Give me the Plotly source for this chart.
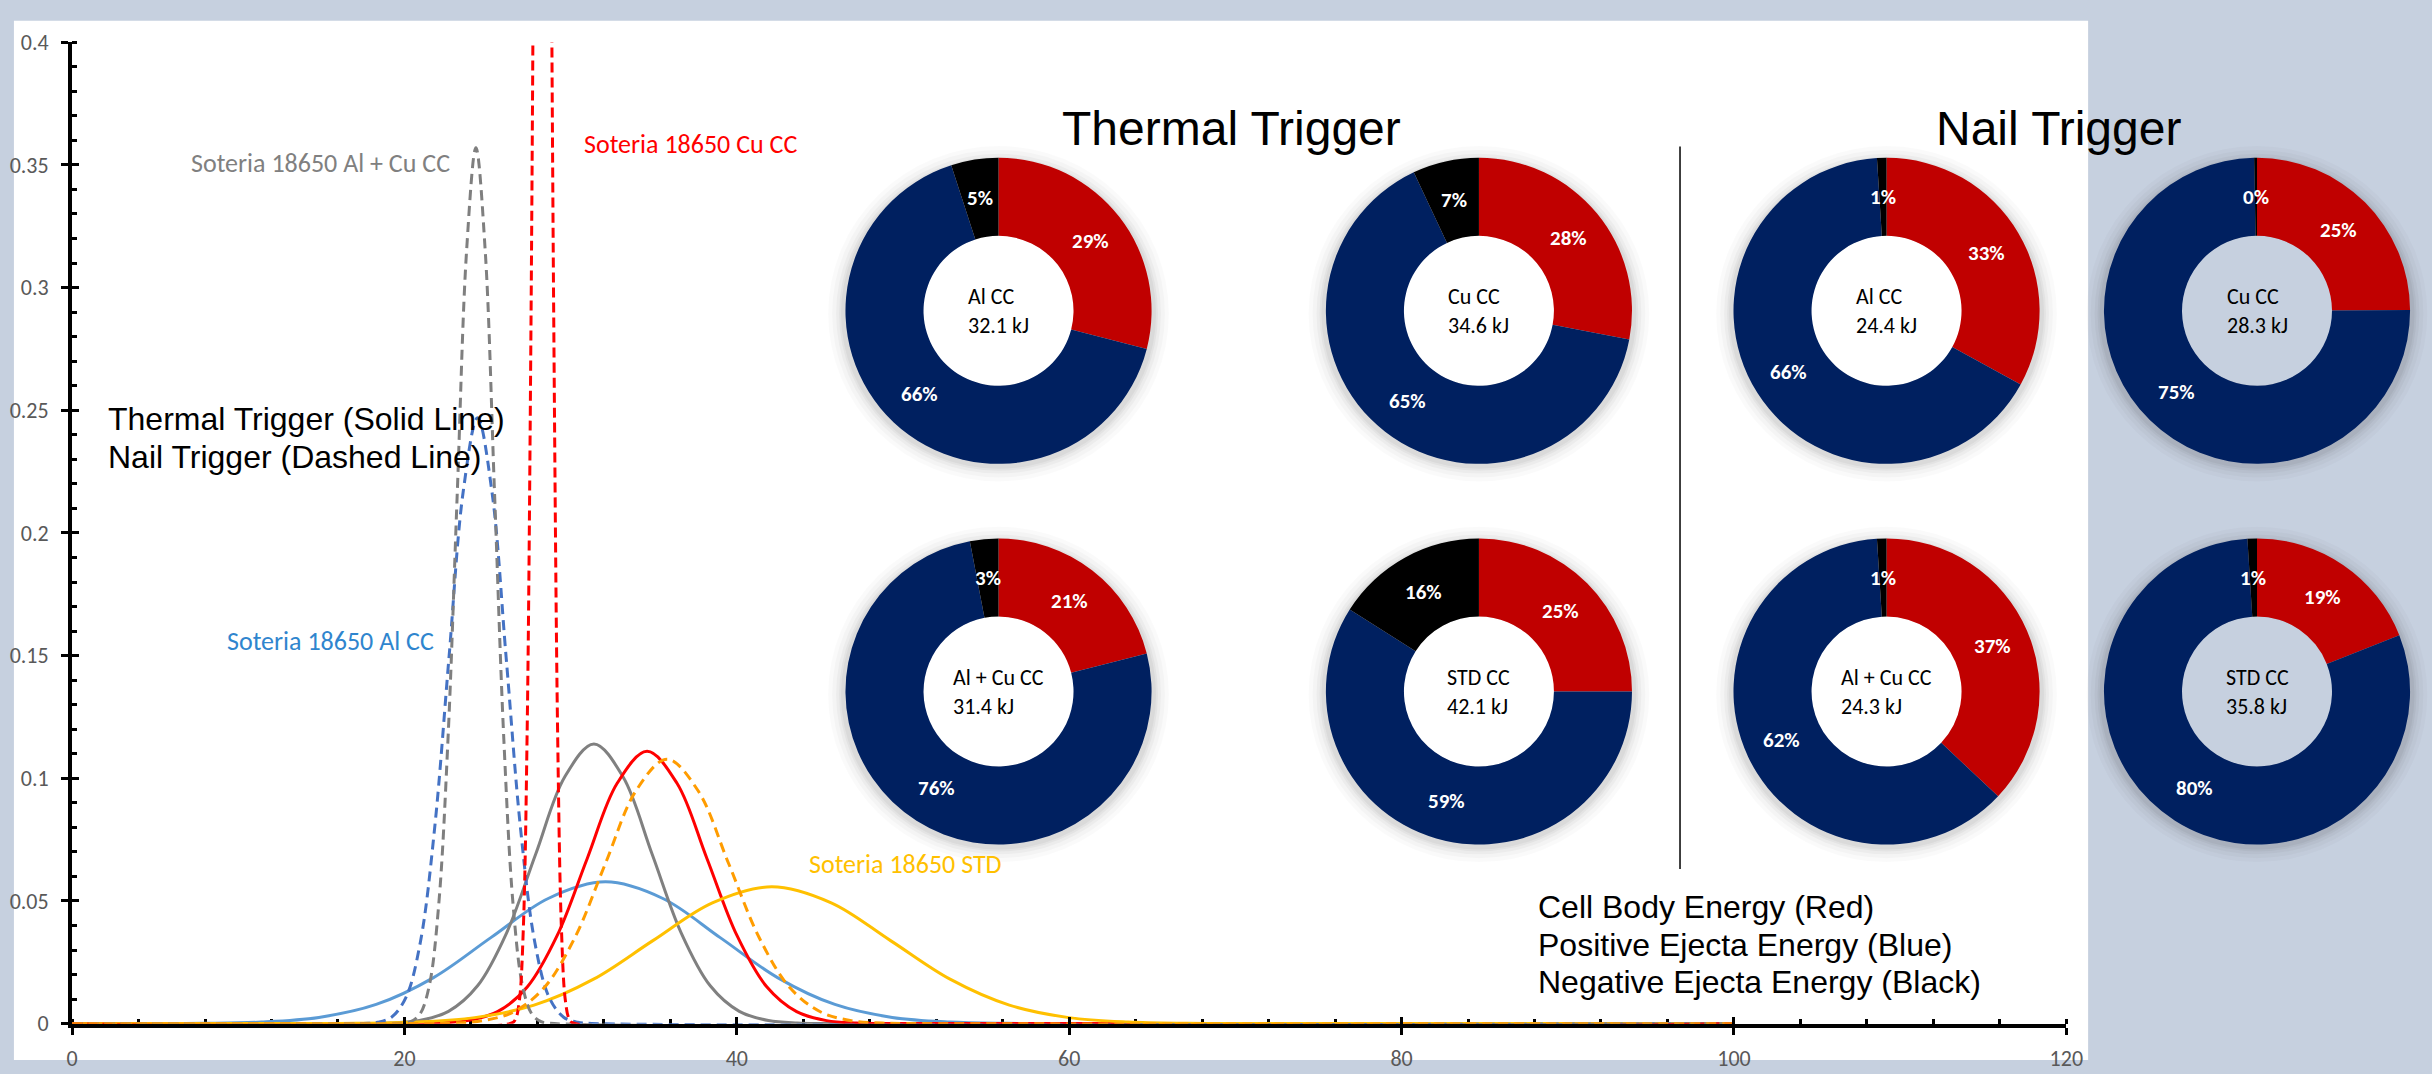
import math
import plotly.graph_objects as go

# ---------------------------------------------------------------------------
# Energy distribution curves (probability density vs. total energy, kJ)
# ---------------------------------------------------------------------------
# Thermal trigger (solid lines)
al_thermal_x = [0, 4.5, 7.95, 11.4, 14.85, 18.3, 21.75, 25.2, 28.65, 32.1, 35.55, 39.0, 42.45, 45.9, 49.35, 52.8, 56.25, 59.7, 100]
al_thermal_y = [0, 0.00002, 0.00013, 0.00064, 0.00254, 0.00782, 0.01877, 0.03506, 0.05101, 0.0578, 0.05101, 0.03506, 0.01877, 0.00782, 0.00254, 0.00064, 0.00013, 0.00002, 0]

alcu_thermal_x = [0, 17.4, 19.15, 20.9, 22.65, 24.4, 26.15, 27.9, 29.65, 31.4, 33.15, 34.9, 36.65, 38.4, 40.15, 41.9, 43.65, 45.4, 100]
alcu_thermal_y = [0, 0.00004, 0.00025, 0.00127, 0.005, 0.01542, 0.03702, 0.06914, 0.1006, 0.114, 0.1006, 0.06914, 0.03702, 0.01542, 0.005, 0.00127, 0.00025, 0.00004, 0]

cu_thermal_x = [0, 20.2, 22.0, 23.8, 25.6, 27.4, 29.2, 31.0, 32.8, 34.6, 36.4, 38.2, 40.0, 41.8, 43.6, 45.4, 47.2, 49.0, 100]
cu_thermal_y = [0, 0.00004, 0.00024, 0.00123, 0.00487, 0.01502, 0.03604, 0.06732, 0.09796, 0.111, 0.09796, 0.06732, 0.03604, 0.01502, 0.00487, 0.00123, 0.00024, 0.00004, 0]

std_thermal_x = [0, 13.5, 17.08, 20.65, 24.23, 27.8, 31.38, 34.95, 38.53, 42.1, 45.68, 49.25, 52.83, 56.4, 59.98, 63.55, 67.13, 70.7, 100]
std_thermal_y = [0, 0.00002, 0.00012, 0.00062, 0.00245, 0.00755, 0.01812, 0.03384, 0.04924, 0.0558, 0.04924, 0.03384, 0.01812, 0.00755, 0.00245, 0.00062, 0.00012, 0.00002, 0]

# Nail trigger (dashed lines)
al_nail_x = [0, 17.52, 18.38, 19.24, 20.1, 20.96, 21.82, 22.68, 23.54, 24.4, 25.26, 26.12, 26.98, 27.84, 28.7, 29.56, 30.42, 31.28, 100]
al_nail_y = [0, 0.00008, 0.00054, 0.00273, 0.0108, 0.03328, 0.07988, 0.1492, 0.2171, 0.247, 0.2171, 0.1492, 0.07988, 0.03328, 0.0108, 0.00273, 0.00054, 0.00008, 0]

alcu_nail_x = [0, 19.82, 20.38, 20.94, 21.5, 22.06, 22.62, 23.18, 23.74, 24.3, 24.86, 25.42, 25.98, 26.54, 27.1, 27.66, 28.22, 28.78, 100]
alcu_nail_y = [0, 0.00012, 0.00078, 0.00396, 0.01567, 0.0483, 0.1159, 0.2165, 0.3151, 0.357, 0.3151, 0.2165, 0.1159, 0.0483, 0.01567, 0.00396, 0.00078, 0.00012, 0]

cu_nail_x = [0, 26.46, 26.69, 26.92, 27.15, 27.38, 27.61, 27.84, 28.07, 28.3, 28.53, 28.76, 28.99, 29.22, 29.45, 29.68, 29.91, 30.14, 100]
cu_nail_y = [0, 0.00029, 0.0019, 0.00962, 0.03806, 0.1173, 0.2815, 0.5258, 0.7651, 0.867, 0.7651, 0.5258, 0.2815, 0.1173, 0.03806, 0.00962, 0.0019, 0.00029, 0]

std_nail_x = [0, 21.0, 22.85, 24.7, 26.55, 28.4, 30.25, 32.1, 33.95, 35.8, 37.65, 39.5, 41.35, 43.2, 45.05, 46.9, 48.75, 50.6, 100]
std_nail_y = [0, 0.00004, 0.00024, 0.0012, 0.00473, 0.01459, 0.035, 0.06538, 0.09513, 0.1078, 0.09513, 0.06538, 0.035, 0.01459, 0.00473, 0.0012, 0.00024, 0.00004, 0]

# ---------------------------------------------------------------------------
# Energy split per cell design (percent of total)
# ---------------------------------------------------------------------------
slice_labels = ["Cell Body Energy", "Positive Ejecta Energy", "Negative Ejecta Energy"]
cell_names = ["Al CC", "Cu CC", "Al + Cu CC", "STD CC"]

thermal_energy_kj = [32.1, 34.6, 31.4, 42.1]
thermal_cell_body = [29, 28, 21, 25]
thermal_pos_ejecta = [66, 65, 76, 59]
thermal_neg_ejecta = [5, 7, 3, 16]

nail_energy_kj = [24.4, 28.3, 24.3, 35.8]
nail_cell_body = [33, 25, 37, 19]
nail_pos_ejecta = [66, 75, 62, 80]
nail_neg_ejecta = [1, 0.3, 1, 1]

x_ticks = [0, 20, 40, 60, 80, 100, 120]

# ---------------------------------------------------------------------------
# Page geometry
# ---------------------------------------------------------------------------
W, H = 2432, 1074
BG = "#C6D0DF"
CAL = "Carlito, Lato, 'Open Sans', sans-serif"
ARIAL = "'Liberation Sans', Arial, sans-serif"


def fx(px):
    return px / W


def fy(py):
    return 1 - py / H


PLOT_L, PLOT_R = 66.7, 2080.0
PLOT_T, PLOT_B = 30.0, 1036.7

fig = go.Figure()

curves = [
    (al_thermal_x, al_thermal_y, "Soteria 18650 Al CC (Thermal)", "#5B9BD5", "solid"),
    (alcu_thermal_x, alcu_thermal_y, "Soteria 18650 Al + Cu CC (Thermal)", "#808080", "solid"),
    (cu_thermal_x, cu_thermal_y, "Soteria 18650 Cu CC (Thermal)", "#FF0000", "solid"),
    (std_thermal_x, std_thermal_y, "Soteria 18650 STD (Thermal)", "#FFC000", "solid"),
    (al_nail_x, al_nail_y, "Soteria 18650 Al CC (Nail)", "#4472C4", "10px,6px"),
    (alcu_nail_x, alcu_nail_y, "Soteria 18650 Al + Cu CC (Nail)", "#7F7F7F", "10px,6px"),
    (cu_nail_x, cu_nail_y, "Soteria 18650 Cu CC (Nail)", "#FF0000", "10px,5px"),
    (std_nail_x, std_nail_y, "Soteria 18650 STD (Nail)", "#FF9C00", "10px,6px"),
]
for xs, ys, name, color, dash in curves:
    fig.add_trace(go.Scatter(
        x=xs, y=ys, name=name, mode="lines",
        line=dict(color=color, width=3, dash=dash, shape="spline", smoothing=1.0),
        showlegend=False, hoverinfo="x+y+name",
    ))

# companion axes that draw the inner half of the major (cross) ticks
fig.add_trace(go.Scatter(x=[None], y=[None], xaxis="x2", yaxis="y2",
                         showlegend=False, hoverinfo="skip"))

# ---------------------------------------------------------------------------
# Donut charts
# ---------------------------------------------------------------------------
DONUT_CX = [1002, 1487, 1898.5, 2272.5]
DONUT_CY = [305.5, 696]
R_OUT = 157
HOLE = 0.49
R_LABEL = 117
SLICE_COLORS = ["#C00000", "#002060", "#000000"]

shapes = [
    # white sheet behind the chart
    dict(type="rect", xref="paper", yref="paper", layer="below",
         x0=fx(8), x1=fx(2102), y0=fy(1074), y1=fy(8),
         fillcolor="white", line=dict(width=0)),
]
annotations = []

donuts = []
for group, col0, energy, body, pos, neg in [
    ("Thermal", 0, thermal_energy_kj, thermal_cell_body, thermal_pos_ejecta, thermal_neg_ejecta),
    ("Nail", 2, nail_energy_kj, nail_cell_body, nail_pos_ejecta, nail_neg_ejecta),
]:
    for i, cname in enumerate(cell_names):
        col = col0 + (i % 2)
        row = i // 2
        donuts.append((group, cname, energy[i], [body[i], pos[i], neg[i]],
                       DONUT_CX[col], DONUT_CY[row]))

for group, cname, kj, vals, cx, cy in donuts:
    on_white = cx + R_OUT < 2102
    # soft halo around the ring
    for d, a in [(15, 0.02), (11, 0.025), (7, 0.03), (4, 0.035), (2, 0.04)]:
        shapes.append(dict(type="circle", xref="paper", yref="paper", layer="below",
                           x0=fx(cx - R_OUT - d), x1=fx(cx + R_OUT + d),
                           y0=fy(cy + 3 + R_OUT + d), y1=fy(cy + 3 - R_OUT - d),
                           fillcolor=f"rgba(0,0,0,{a})", line=dict(width=0)))
    r_in = R_OUT * HOLE
    shapes.append(dict(type="circle", xref="paper", yref="paper", layer="below",
                       x0=fx(cx - r_in), x1=fx(cx + r_in),
                       y0=fy(cy + r_in), y1=fy(cy - r_in),
                       fillcolor="white" if on_white else BG, line=dict(width=0)))
    fig.add_trace(go.Pie(
        labels=slice_labels, values=vals, name=f"{group} {cname}",
        hole=HOLE, sort=False, direction="clockwise", rotation=0,
        marker=dict(colors=SLICE_COLORS, line=dict(width=0)),
        textinfo="none",
        domain=dict(x=[fx(cx - R_OUT), fx(cx + R_OUT)],
                    y=[fy(cy + R_OUT), fy(cy - R_OUT)]),
        showlegend=False, hoverinfo="label+percent",
    ))
    # percentage labels at the middle of each ring segment
    total = sum(vals)
    start = 0.0
    for v in vals:
        frac = v / total
        mid = (start + frac / 2) * 2 * math.pi
        start += frac
        lx = cx + R_LABEL * math.sin(mid)
        ly = cy - R_LABEL * math.cos(mid)
        annotations.append(dict(
            xref="paper", yref="paper", x=fx(lx), y=fy(ly),
            text=f"{frac:.0%}", showarrow=False,
            xanchor="center", yanchor="middle",
            font=dict(family=CAL, size=21, color="white", weight="bold"),
        ))
    annotations.append(dict(
        xref="paper", yref="paper", x=fx(cx), y=fy(cy),
        text=f"{cname}<br>{kj} kJ", showarrow=False, align="left",
        xanchor="center", yanchor="middle",
        font=dict(family=CAL, size=22, color="black"),
    ))

# separator between the thermal and nail groups
shapes.append(dict(type="line", xref="paper", yref="paper", layer="above",
                   x0=fx(1690), x1=fx(1690), y0=fy(878), y1=fy(137),
                   line=dict(color="black", width=1.5)))


def label(text, px, py, size, color, family, xanchor="left"):
    annotations.append(dict(
        xref="paper", yref="paper", x=fx(px), y=fy(py), text=text,
        showarrow=False, xanchor=xanchor, yanchor="middle",
        font=dict(family=family, size=size, color=color),
    ))


label("Soteria 18650 Al + Cu CC", 185, 154, 26, "#808080", CAL)
label("Soteria 18650 Cu CC", 582, 134, 26, "#FF0000", CAL)
label("Soteria 18650 Al CC", 221, 644, 26, "#2F85CE", CAL)
label("Soteria 18650 STD", 809, 873, 26, "#FFC000", CAL)
label("Thermal Trigger (Solid Line)", 101, 416, 32, "black", ARIAL)
label("Nail Trigger (Dashed Line)", 101, 455, 32, "black", ARIAL)
label("Thermal Trigger", 1237, 118, 48, "black", ARIAL, "center")
label("Nail Trigger", 2072, 118, 48, "black", ARIAL, "center")
label("Cell Body Energy (Red)", 1545, 917, 32, "black", ARIAL)
label("Positive Ejecta Energy (Blue)", 1545, 956, 32, "black", ARIAL)
label("Negative Ejecta Energy (Black)", 1545, 994, 32, "black", ARIAL)

x_dom = [fx(PLOT_L), fx(PLOT_R)]
y_dom = [fy(PLOT_B), fy(PLOT_T)]
tick_font = dict(family=CAL, size=22, color="#595959")

fig.update_layout(
    width=W, height=H,
    margin=dict(l=0, r=0, t=0, b=0),
    paper_bgcolor=BG, plot_bgcolor="rgba(0,0,0,0)",
    shapes=shapes, annotations=annotations,
    xaxis=dict(
        domain=x_dom, range=[0, 120], tickvals=x_ticks, anchor="y",
        ticks="outside", ticklen=7, tickwidth=3, tickcolor="black",
        showline=True, linewidth=4, linecolor="black",
        showgrid=False, zeroline=False, layer="below traces",
        tickfont=tick_font, ticklabelstandoff=5,
        minor=dict(ticks="inside", dtick=4, tick0=0, ticklen=5, tickwidth=3,
                   tickcolor="black", showgrid=False),
    ),
    yaxis=dict(
        domain=y_dom, range=[0, 0.4], dtick=0.05, tick0=0, anchor="x",
        ticks="outside", ticklen=7, tickwidth=3, tickcolor="black",
        showline=True, linewidth=4, linecolor="black",
        showgrid=False, zeroline=False, layer="below traces",
        tickfont=tick_font, ticklabelstandoff=8,
        minor=dict(ticks="inside", dtick=0.01, tick0=0, ticklen=5, tickwidth=3,
                   tickcolor="black", showgrid=False),
    ),
    xaxis2=dict(
        overlaying="x", anchor="y", range=[0, 120], tickvals=x_ticks,
        ticks="inside", ticklen=7, tickwidth=3, tickcolor="black",
        showticklabels=False, showgrid=False, zeroline=False, showline=False,
    ),
    yaxis2=dict(
        overlaying="y", anchor="x", range=[0, 0.4], dtick=0.05, tick0=0,
        ticks="inside", ticklen=7, tickwidth=3, tickcolor="black",
        showticklabels=False, showgrid=False, zeroline=False, showline=False,
    ),
)

fig.write_html("out.html")
